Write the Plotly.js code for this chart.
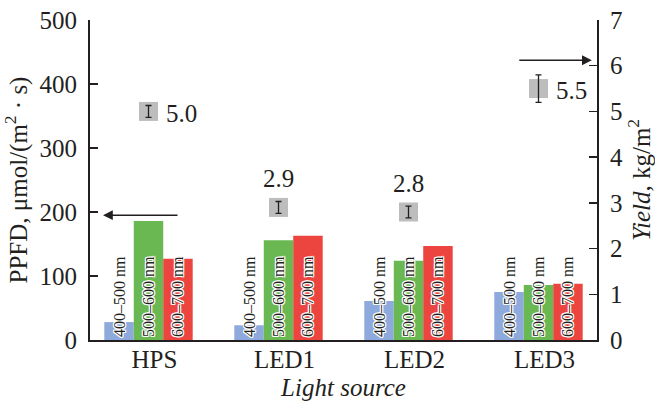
<!DOCTYPE html>
<html>
<head>
<meta charset="utf-8">
<script src="https://cdn.plot.ly/plotly-3.0.1.min.js"></script>
<style>
  html, body { margin: 0; padding: 0; background: #fff; }
  #chart { width: 655px; height: 407px; }
</style>
</head>
<body>
<div id="chart"></div>
<script>
// Light sources on the x axis
const sources = ['HPS', 'LED1', 'LED2', 'LED3'];

// PPFD per spectral band, µmol/(m²·s)
const bandNames = ['400–500 nm', '500–600 nm', '600–700 nm'];
const ppfdBlue  = [28, 23, 61, 75];
const ppfdGreen = [186, 156, 124, 86];
const ppfdRed   = [127, 163, 147, 88];

// Yield, kg/m², with its spread
const yieldVal = [5.0, 2.9, 2.8, 5.5];
const yieldErr = [0.13, 0.13, 0.13, 0.3];

// Where the two pointer arrows meet their axes
const ppfdArrowAt  = 195;  // on the PPFD axis
const yieldArrowAt = 6.12; // on the Yield axis

const serif = '"Liberation Serif"';
const ink = '#231f20';
const halo = '1px 0 0 #fff, -1px 0 0 #fff, 0 1px 0 #fff, 0 -1px 0 #fff, 1px 1px 0 #fff, -1px -1px 0 #fff, 1px -1px 0 #fff, -1px 1px 0 #fff';

const bandColors = ['#8ea9db', '#69b852', '#ec4540'];
const bandValues = [ppfdBlue, ppfdGreen, ppfdRed];

const traces = bandValues.map((vals, i) => ({
  type: 'bar',
  x: sources,
  y: vals,
  name: bandNames[i],
  marker: { color: bandColors[i], line: { width: 0 } },
  text: sources.map(() => bandNames[i]),
  textposition: 'inside',
  insidetextanchor: 'start',
  constraintext: 'none',
  textangle: -90,
  insidetextfont: { family: serif, size: 16, color: ink, shadow: halo },
  cliponaxis: false,
  hoverinfo: 'skip'
}));

// Grey yield markers
traces.push({
  type: 'scatter',
  mode: 'markers',
  x: sources,
  y: yieldVal,
  yaxis: 'y2',
  marker: { symbol: 'square', size: 19, color: '#bdbdbd', line: { width: 0 } },
  cliponaxis: false,
  hoverinfo: 'skip'
});
// Yield spread drawn over the markers
traces.push({
  type: 'scatter',
  mode: 'markers',
  x: sources,
  y: yieldVal,
  yaxis: 'y2',
  marker: { size: 1, color: 'rgba(0,0,0,0)' },
  error_y: { type: 'data', array: yieldErr, visible: true, color: ink, thickness: 1.3, width: 3 },
  cliponaxis: false,
  hoverinfo: 'skip'
});

// Yield value labels: beside the marker or above it
const labelSide = ['right', 'above', 'above', 'right'];
const annotations = sources.map((s, i) => {
  const right = labelSide[i] === 'right';
  return {
    x: s, y: yieldVal[i], xref: 'x', yref: 'y2',
    text: yieldVal[i].toFixed(1),
    showarrow: false,
    xanchor: right ? 'left' : 'center',
    yanchor: 'middle',
    xshift: right ? 15 : 0,
    yshift: right ? -2 : 29,
    font: { family: serif, size: 25, color: ink }
  };
});

// Arrow pointing to the PPFD axis
annotations.push({
  x: -0.35, y: ppfdArrowAt, xref: 'x', yref: 'y',
  ax: 76, ay: 0, axref: 'pixel', ayref: 'pixel',
  text: '', showarrow: true,
  arrowhead: 2, arrowsize: 1.4, arrowwidth: 1.4, arrowcolor: ink
});
// Arrow pointing to the Yield axis
annotations.push({
  x: 3.41, y: yieldArrowAt, xref: 'x', yref: 'y2',
  ax: -74, ay: 0, axref: 'pixel', ayref: 'pixel',
  text: '', showarrow: true,
  arrowhead: 2, arrowsize: 1.4, arrowwidth: 1.4, arrowcolor: ink
});

const axisFont = { family: serif, size: 25, color: ink };

const layout = {
  width: 655, height: 407,
  margin: { l: 90, r: 58, t: 20, b: 67 },
  paper_bgcolor: '#fff', plot_bgcolor: '#fff',
  showlegend: false,
  barmode: 'group',
  bargap: 0.32,
  bargroupgap: 0,
  font: { family: serif, color: ink },
  xaxis: {
    type: 'category',
    range: [-0.45, 3.45],
    showline: true, linewidth: 2, linecolor: ink,
    ticks: '', showgrid: false, zeroline: false,
    tickfont: axisFont,
    ticklabelshift: 6,
    ticklabelstandoff: -4,
    title: { text: '<i>Light source</i>', font: axisFont, standoff: 6 }
  },
  yaxis: {
    range: [0, 500], dtick: 100,
    showline: true, linewidth: 2, linecolor: ink,
    ticks: 'inside', ticklen: 8, tickwidth: 1.5, tickcolor: ink,
    showgrid: false, zeroline: false,
    tickfont: axisFont,
    ticklabelstandoff: 6,
    title: { text: 'PPFD, μmol/(m<sup>2</sup> · s)', font: axisFont, standoff: 6 }
  },
  yaxis2: {
    overlaying: 'y', side: 'right',
    range: [0, 7], dtick: 1,
    showline: true, linewidth: 2, linecolor: ink,
    ticks: 'inside', ticklen: 8, tickwidth: 1.5, tickcolor: ink,
    showgrid: false, zeroline: false,
    tickfont: axisFont,
    ticklabelstandoff: 6,
    title: { text: '<i>Yield</i>, kg/m<sup>2</sup>', font: axisFont, standoff: 6 }
  },
  annotations: annotations
};

Plotly.newPlot('chart', traces, layout, { displayModeBar: false, staticPlot: true });
</script>
</body>
</html>
